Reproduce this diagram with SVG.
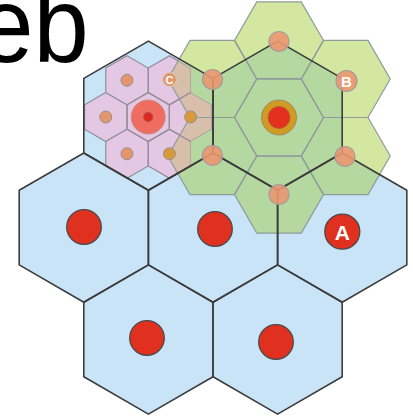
<svg xmlns="http://www.w3.org/2000/svg" xmlns:xlink="http://www.w3.org/1999/xlink" width="413" height="419" viewBox="0 0 413 419">
<style>
.bigfill{fill:#c9e3f7}
.bigline{fill:none;stroke:#3c3c3c;stroke-width:1.6;stroke-linejoin:round}
.pinkhex{fill:#e4c7e2;stroke:#8f8f9c;stroke-width:1.2}
.ghline{fill:none;stroke:#8e9b9c;stroke-width:1.2}
.odot{fill:#e2966e;stroke:#979090;stroke-width:1}
.gdot{fill:#d7993a;stroke:#979090;stroke-width:1}
.bdot{fill:#ea9770;stroke:#a49a9a;stroke-width:1.2;fill-opacity:0.9}
.rdot{fill:#e0301f;stroke:#4a4a4a;stroke-width:1.3}
.lbl{font-family:"Liberation Sans",Arial,sans-serif;font-weight:bold;fill:#ffffff;text-anchor:middle}
</style>
<defs>
<polygon id="H" points="0,-74.6 64.6,-37.3 64.6,37.3 0,74.6 -64.6,37.3 -64.6,-37.3"/>
<polygon id="P" points="0,-24.5 21.22,-12.25 21.22,12.25 0,24.5 -21.22,12.25 -21.22,-12.25"/>
<polygon id="G" points="44.5,0 22.25,38.54 -22.25,38.54 -44.5,0 -22.25,-38.54 22.25,-38.54"/>
<clipPath id="blueClip">
<use xlink:href="#H" x="148.4" y="115.7"/>
<use xlink:href="#H" x="277.6" y="115.7"/>
<use xlink:href="#H" x="83.8" y="227.6"/>
<use xlink:href="#H" x="213" y="227.6"/>
<use xlink:href="#H" x="342.2" y="227.6"/>
<use xlink:href="#H" x="148.4" y="339.5"/>
<use xlink:href="#H" x="277.6" y="339.5"/>
</clipPath>
<clipPath id="pinkClip">
<use xlink:href="#P" x="148.2" y="117"/>
<use xlink:href="#P" x="190.64" y="117"/>
<use xlink:href="#P" x="105.76" y="117"/>
<use xlink:href="#P" x="169.42" y="80.25"/>
<use xlink:href="#P" x="126.98" y="80.25"/>
<use xlink:href="#P" x="169.42" y="153.75"/>
<use xlink:href="#P" x="126.98" y="153.75"/>
</clipPath>
<g id="greenSet">
<use xlink:href="#G" x="279" y="117.5"/>
<use xlink:href="#G" x="279" y="40.42"/>
<use xlink:href="#G" x="279" y="194.58"/>
<use xlink:href="#G" x="345.75" y="78.96"/>
<use xlink:href="#G" x="345.75" y="156.04"/>
<use xlink:href="#G" x="212.25" y="78.96"/>
<use xlink:href="#G" x="212.25" y="156.04"/>
</g>
</defs>
<rect width="413" height="419" fill="#ffffff"/>
<g id="cells" class="bigfill">
<use xlink:href="#H" x="148.4" y="115.7"/>
<use xlink:href="#H" x="277.6" y="115.7"/>
<use xlink:href="#H" x="83.8" y="227.6"/>
<use xlink:href="#H" x="213" y="227.6"/>
<use xlink:href="#H" x="342.2" y="227.6"/>
<use xlink:href="#H" x="148.4" y="339.5"/>
<use xlink:href="#H" x="277.6" y="339.5"/>
</g>
<g id="pink-cluster">
<g class="pinkhex">
<use xlink:href="#P" x="148.2" y="117"/>
<use xlink:href="#P" x="190.64" y="117"/>
<use xlink:href="#P" x="105.76" y="117"/>
<use xlink:href="#P" x="169.42" y="80.25"/>
<use xlink:href="#P" x="126.98" y="80.25"/>
<use xlink:href="#P" x="169.42" y="153.75"/>
<use xlink:href="#P" x="126.98" y="153.75"/>
</g>
<circle cx="148.2" cy="117" r="17" fill="#ee6c60" stroke="#c98a86" stroke-width="1"/>
<circle cx="148.2" cy="117" r="4.6" fill="#e0281c" stroke="#a05050" stroke-width="0.8"/>
<circle class="odot" cx="126.98" cy="80.25" r="6"/>
<circle class="odot" cx="105.76" cy="117" r="6"/>
<circle class="odot" cx="126.98" cy="153.75" r="6"/>
</g>
<g id="green-cluster">
<use xlink:href="#greenSet" fill="#d3e7a1"/>
<use xlink:href="#greenSet" fill="#b5d8a0" clip-path="url(#blueClip)"/>
<use xlink:href="#greenSet" fill="#d8bfab" clip-path="url(#pinkClip)"/>
<use xlink:href="#greenSet" class="ghline"/>
<g fill="none" stroke="#9a8f9c" stroke-width="1.1" clip-path="url(#pinkClip)">
<use xlink:href="#P" x="148.2" y="117"/>
<use xlink:href="#P" x="190.64" y="117"/>
<use xlink:href="#P" x="169.42" y="80.25"/>
<use xlink:href="#P" x="169.42" y="153.75"/>
</g>
<circle class="gdot" cx="190.64" cy="117" r="6"/>
<circle class="gdot" cx="169.42" cy="153.75" r="6"/>
</g>
<g id="cell-outlines" class="bigline">
<use xlink:href="#H" x="148.4" y="115.7"/>
<use xlink:href="#H" x="277.6" y="115.7"/>
<use xlink:href="#H" x="83.8" y="227.6"/>
<use xlink:href="#H" x="213" y="227.6"/>
<use xlink:href="#H" x="342.2" y="227.6"/>
<use xlink:href="#H" x="148.4" y="339.5"/>
<use xlink:href="#H" x="277.6" y="339.5"/>
</g>
<g id="node-C">
<circle cx="169.6" cy="79.5" r="7" fill="#e0966a" stroke="#d8c8b8" stroke-width="1.2"/>
<text class="lbl" x="169.6" y="83.5" font-size="11">C</text>
</g>
<g id="green-center">
<circle cx="279" cy="117.5" r="17.5" fill="#cf9b22" stroke="#9c8c6c" stroke-width="1"/>
<circle cx="279" cy="117.5" r="11" fill="#e3301f" stroke="#b8603a" stroke-width="0.8"/>
</g>
<g id="green-dots">
<circle class="bdot" cx="279" cy="41.5" r="10"/>
<circle class="bdot" cx="212.5" cy="79.5" r="10"/>
<circle class="bdot" cx="212.5" cy="155.5" r="10"/>
<circle class="bdot" cx="345" cy="156.5" r="10"/>
<circle class="bdot" cx="279" cy="194.5" r="10"/>
</g>
<g id="node-B">
<circle class="bdot" cx="346.5" cy="81" r="10.5"/>
<text class="lbl" x="346.5" y="86.5" font-size="15">B</text>
</g>
<g id="red-dots">
<circle class="rdot" cx="84" cy="227" r="17.3"/>
<circle class="rdot" cx="215" cy="229" r="17.3"/>
<circle class="rdot" cx="147" cy="338" r="17.3"/>
<circle class="rdot" cx="276" cy="342" r="17.3"/>
</g>
<g id="node-A">
<circle class="rdot" cx="342.3" cy="231.7" r="17.5"/>
<text class="lbl" x="342.3" y="239.5" font-size="21">A</text>
</g>
<g id="title" transform="translate(-21.7,62) scale(0.92,1)">
<text x="0" y="0" font-family="'Liberation Sans',Arial,sans-serif" font-size="108" fill="#000000">eb</text>
</g>
</svg>
